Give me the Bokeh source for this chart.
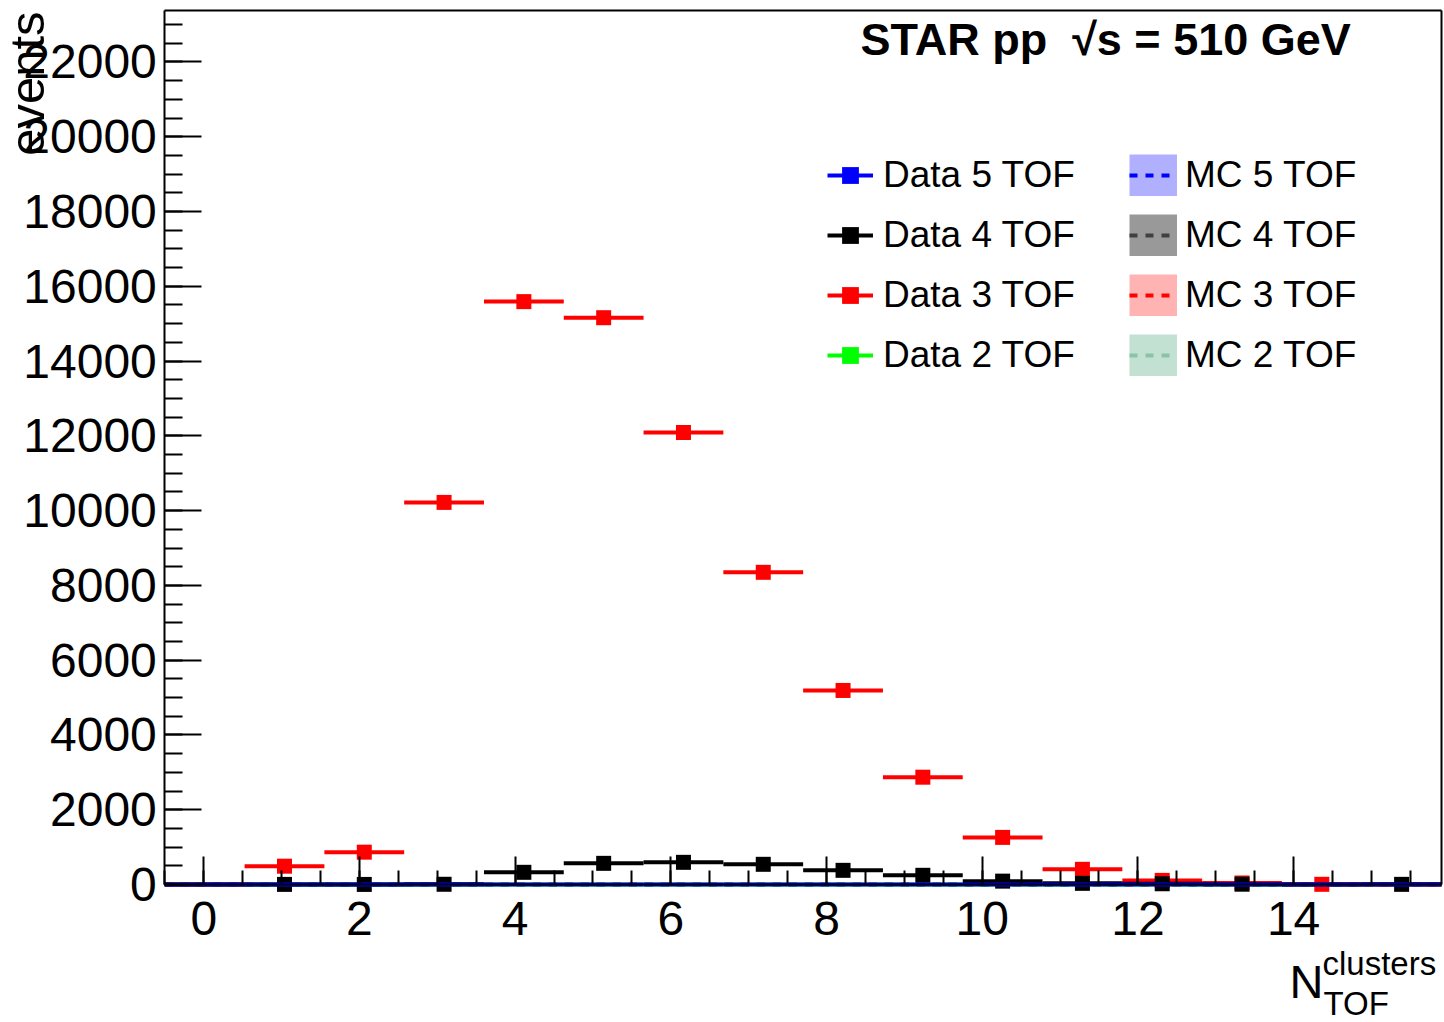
import math
from bokeh.plotting import figure
from bokeh.models import (ColumnDataSource, Range1d, SingleIntervalTicker, FixedTicker,
                          LinearAxis, Legend, LegendItem, Label)
from bokeh.embed import file_html
from bokeh.resources import INLINE

# ---------------- data ----------------
bin_lo = [-0.5, 0.525, 1.55, 2.575, 3.6, 4.625, 5.65, 6.675,
          7.7, 8.725, 9.75, 10.775, 11.8, 12.825, 13.85, 14.875]
bin_hi = [0.525, 1.55, 2.575, 3.6, 4.625, 5.65, 6.675, 7.7,
          8.725, 9.75, 10.775, 11.8, 12.825, 13.85, 14.875, 15.9]

data5 = [0, 0, 0, 0, 0, 0, 0, 0, 0, 0, 0, 0, 0, 0, 0, 0]
data4 = [0, 3, 2, 6, 326, 566, 593, 540, 379, 246, 90, 31, 20, 8, 0, 4]
data3 = [0, 490, 865, 10220, 15590, 15160, 12090, 8350, 5190, 2870, 1260, 406, 110, 40, 5, 0]
data2 = [0, 0, 0, 0, 0, 0, 0, 0, 0, 0, 0, 0, 0, 0, 0, 0]

mc5 = [0, 0, 0, 0, 0, 0, 0, 0, 0, 0, 0, 0, 0, 0, 0, 0]
mc4 = [0, 0, 0, 0, 0, 0, 0, 0, 0, 0, 0, 0, 0, 0, 0, 0]
mc3 = [0, 0, 0, 0, 0, 0, 0, 0, 0, 0, 0, 0, 0, 0, 0, 0]
mc2 = [0, 0, 0, 0, 0, 0, 0, 0, 0, 0, 0, 0, 0, 0, 0, 0]

data_labels = ["Data 5 TOF", "Data 4 TOF", "Data 3 TOF", "Data 2 TOF"]
mc_labels = ["MC 5 TOF", "MC 4 TOF", "MC 3 TOF", "MC 2 TOF"]
title_text = "STAR pp\u00a0 \u221As = 510 GeV"
y_label = "events"
x_label_main, x_label_sup, x_label_sub = "N", "clusters", "TOF"

X_MIN, X_MAX = -0.5, 15.9      # histogram frame
Y_MIN, Y_MAX = 0, 23390

FONT = "Liberation Sans"
W, H = 1444, 1022
# pixel margins of the ROOT pad around the histogram frame
ML, MR, MT, MB = 164.3, 3.0, 9.5, 138.0
sx = (W - ML - MR) / (X_MAX - X_MIN)
sy = (H - MT - MB) / (Y_MAX - Y_MIN)

# the Bokeh frame covers the whole canvas; axes are placed at the pad frame
p = figure(width=W, height=H,
           x_range=Range1d(X_MIN - ML / sx, X_MAX + MR / sx),
           y_range=Range1d(Y_MIN - MB / sy, Y_MAX + MT / sy),
           x_axis_type=None, y_axis_type=None,
           output_backend="svg", toolbar_location=None, min_border=0)
p.background_fill_color = "white"
p.border_fill_color = "white"
p.outline_line_color = None
p.xgrid.visible = False
p.ygrid.visible = False


def styled(ax, tick_in, minor_in, standoff):
    ax.axis_line_color = "black"
    ax.axis_line_width = 2
    ax.major_tick_line_color = "black"
    ax.minor_tick_line_color = "black"
    ax.major_tick_line_width = 2
    ax.minor_tick_line_width = 2
    ax.major_tick_in = tick_in
    ax.minor_tick_in = minor_in
    ax.major_tick_out = 0
    ax.minor_tick_out = 0
    ax.major_label_text_font = FONT
    ax.major_label_text_font_size = "48px"
    ax.major_label_text_color = "black"
    ax.major_label_standoff = standoff
    return ax


yaxis = styled(LinearAxis(fixed_location=X_MIN, bounds=(Y_MIN, Y_MAX),
                          ticker=SingleIntervalTicker(interval=2000, num_minor_ticks=4)),
               37, 18, 8)
xaxis = styled(LinearAxis(fixed_location=Y_MIN, bounds=(X_MIN, X_MAX),
                          ticker=SingleIntervalTicker(interval=2, num_minor_ticks=4)),
               28, 14, 17)
p.add_layout(yaxis, "left")
p.add_layout(xaxis, "below")
# top and right edges of the frame (no ticks, no labels)
for side, loc, bnds in (("right", X_MAX, (Y_MIN, Y_MAX)), ("above", Y_MAX, (X_MIN, X_MAX))):
    edge = LinearAxis(fixed_location=loc, bounds=bnds, ticker=FixedTicker(ticks=[]),
                      axis_line_color="black", axis_line_width=2,
                      major_tick_line_alpha=0, minor_tick_line_alpha=0,
                      major_label_text_alpha=0)
    p.add_layout(edge, side)

# ---------------- MC histograms ----------------
mc_sets = [
    (mc5, "#b0b0ff", "#0000ff"),
    (mc4, "#999999", "#404040"),
    (mc3, "#ffb3b3", "#ff0000"),
    (mc2, "#c2e1d3", "#89c4a6"),
]
mc_items = []
for (vals, fill, dash), lab in zip(mc_sets, mc_labels):
    src = ColumnDataSource(dict(left=bin_lo, right=bin_hi, top=vals,
                                bottom=[0] * len(vals)))
    p.quad(left="left", right="right", top="top", bottom="bottom",
           source=src, fill_color=fill, fill_alpha=1.0, line_alpha=0)
    st = p.step(x=bin_lo + [bin_hi[-1]], y=vals + [vals[-1]], mode="after",
                line_color=dash, line_width=4, line_dash="8 8")
    # legend swatch (filled box): thick line glyph that draws nothing in the plot
    sw = p.line(x=[float("nan")], y=[float("nan")], line_color=fill, line_width=42)
    mc_items.append(LegendItem(label=lab, renderers=[sw, st]))

# ---------------- data points ----------------
data_sets = {
    "Data 5 TOF": (data5, "#0000ff"),
    "Data 4 TOF": (data4, "#000000"),
    "Data 3 TOF": (data3, "#ff0000"),
    "Data 2 TOF": (data2, "#00ff00"),
}
draw_order = ["Data 2 TOF", "Data 3 TOF", "Data 4 TOF", "Data 5 TOF"]
rend = {}
for lab in draw_order:
    vals, col = data_sets[lab]
    xc = [(a + b) / 2 for a, b in zip(bin_lo, bin_hi)]
    ym = [v if v > 0 else float("nan") for v in vals]   # empty bins: no marker
    src = ColumnDataSource(dict(x0=bin_lo, x1=bin_hi, y=vals, xc=xc, ym=ym))
    seg = p.segment(x0="x0", y0="y", x1="x1", y1="y", source=src,
                    line_color=col, line_width=4)
    sc = p.scatter(x="xc", y="ym", source=src, marker="square", size=15,
                   fill_color=col, line_color=col, line_width=0)
    rend[lab] = [seg, sc]
data_items = [LegendItem(label=lab, renderers=rend[lab]) for lab in data_labels]

common = dict(orientation="vertical", glyph_height=42,
              label_height=42, spacing=18, padding=0, margin=0,
              label_text_font=FONT, label_text_font_size="37px",
              label_text_color="black",
              border_line_alpha=0, background_fill_alpha=0)
leg1 = Legend(items=data_items, location=(827, 646), glyph_width=46,
              label_standoff=10, **common)
leg2 = Legend(items=mc_items, location=(1129, 646), glyph_width=48,
              label_standoff=8, **common)
p.add_layout(leg1)
p.add_layout(leg2)

# ---------------- texts ----------------
def label(x, y, text, size, bold=False, angle=0.0, align="left"):
    p.add_layout(Label(x=x, y=y, x_units="screen", y_units="screen", text=text,
                       text_font=FONT, text_font_size=size,
                       text_font_style="bold" if bold else "normal",
                       text_color="black", angle=angle,
                       text_baseline="alphabetic", text_align=align))


label(860, 983, title_text, "45px", bold=True)
label(26, 1011, y_label, "49px", angle=math.pi / 2, align="right")
label(1289, 41, x_label_main, "47px")
label(1322, 59, x_label_sup, "33px")
label(1323, 19, x_label_sub, "33px")

open("out.html", "w").write(file_html(p, INLINE))
